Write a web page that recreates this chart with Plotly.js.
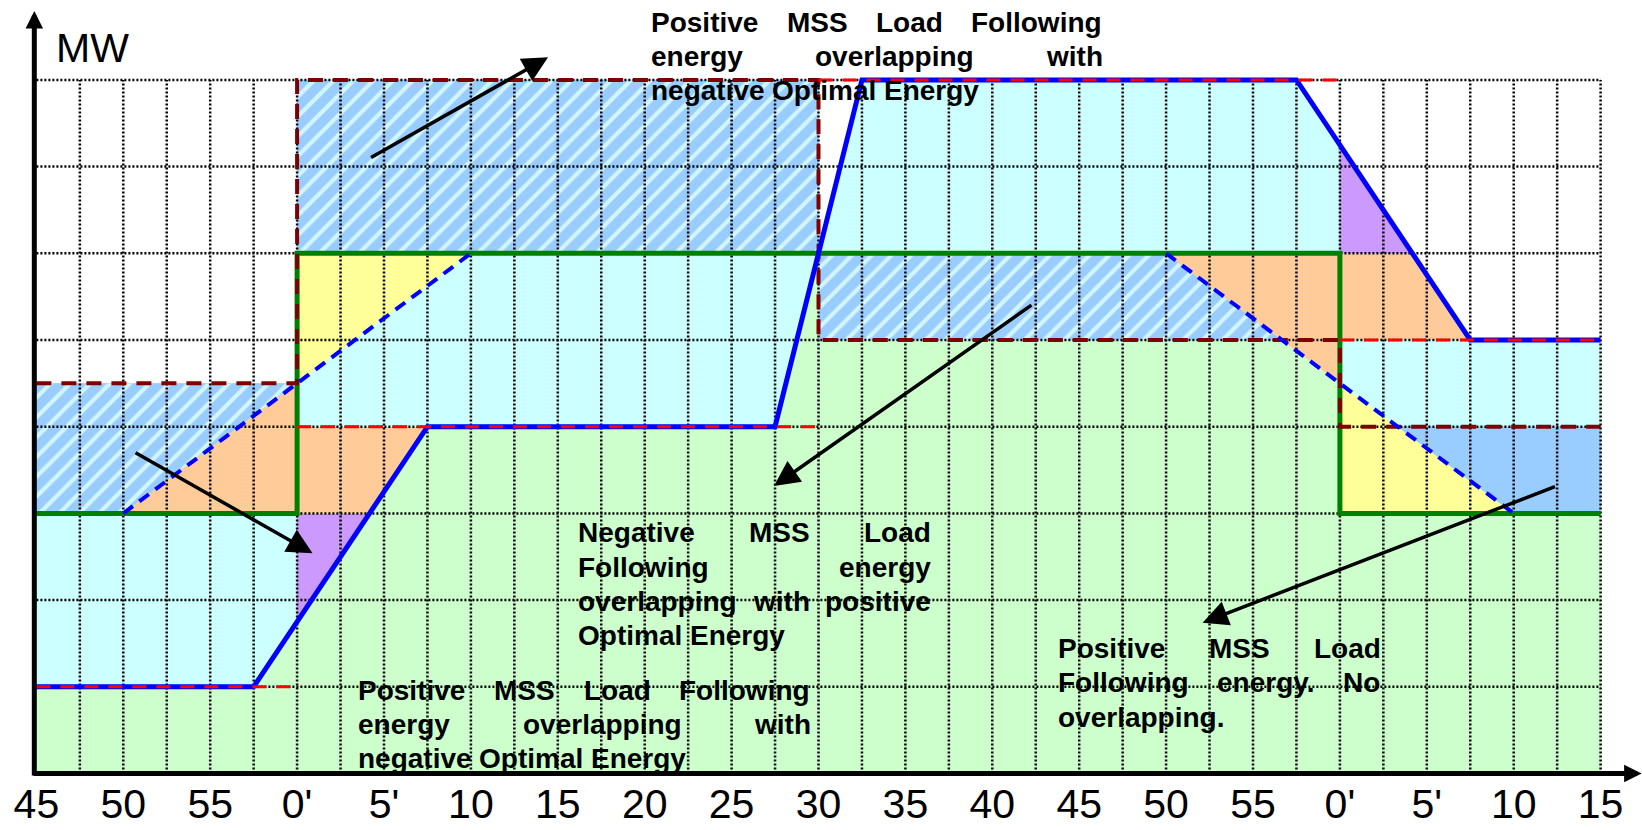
<!DOCTYPE html>
<html><head><meta charset="utf-8">
<script src="https://cdn.plot.ly/plotly-3.0.1.min.js"></script>
<style>html,body{margin:0;padding:0;background:#fff;}#chart{width:1642px;height:830px;}</style>
</head><body><div id="chart"></div>
<script>
// ---------- data (x = minutes after the first ":45", y = MW units) ----------
const tickMinutes = [0,5,10,15,20,25,30,35,40,45,50,55,60,65,70,75,80,85,90];
const tickLabels = ['45','50','55',"0'","5'",'10','15','20','25','30','35','40','45','50','55',"0'","5'",'10','15'];
// optimal energy (green step)
const optimalX = [0,15,15,75,75,90];
const optimalY = [3,3,6,6,3,3];
// ramped optimal energy (blue dashed)
const optimalRampX = [0,5,25,65,85,90];
const optimalRampY = [3,3,6,6,3,3];
// MSS load following (blue solid)
const mssX = [0,12.5,22.5,42.5,47.5,72.5,82.5,90];
const mssY = [1,1,4,4,8,8,5,5];
// hourly schedule (red dashed)
const scheduleStartX = [0,15,45,75];
const scheduleEndX = [15,45,75,90];
const scheduleY = [1,4,8,5];
// band limit (dark red dashed)
const boundStartX = [0,15,45,75];
const boundEndX = [15,45,75,90];
const boundY = [4.5,8,5,4];
// annotation texts
const noteTop = ['Positive MSS Load Following','energy overlapping with','negative Optimal Energy'];
const noteNegative = ['Negative MSS Load','Following energy','overlapping with positive','Optimal Energy'];
const noteBottom = ['Positive MSS Load Following','energy overlapping with','negative Optimal Energy'];
const noteRight = ['Positive MSS Load','Following energy. No','overlapping.'];
const yAxisLabel = 'MW';

// ---------- layout geometry ----------
const W = 1642, H = 830, L = 30, R = 0, T = 8, B = 54;
const PW = W - L - R, PH = H - T - B;
const X0PX = 36.4, PXPERMIN = 17.38, Y0PX = 773.5, PXPERMW = 86.7;
const xRange = [(L - X0PX) / PXPERMIN, (W - R - X0PX) / PXPERMIN];
const yRange = [(Y0PX - (H - B)) / PXPERMW, (Y0PX - T) / PXPERMW];
const gridMaxX = 90, gridMaxY = 8, gridStepX = 2.5, gridStepY = 1;

// ---------- helpers ----------
function interp(xs, ys, x) {
  for (let i = 0; i < xs.length - 1; i++) {
    if (x >= xs[i] && x <= xs[i+1]) {
      if (xs[i+1] === xs[i]) return ys[i];
      return ys[i] + (ys[i+1]-ys[i]) * (x - xs[i]) / (xs[i+1]-xs[i]);
    }
  }
  return ys[ys.length-1];
}
function cross(xs, ys, y, x0, x1) {
  for (let i = 0; i < xs.length - 1; i++) {
    if (ys[i] === ys[i+1]) continue;
    if ((ys[i]-y)*(ys[i+1]-y) <= 0) {
      const x = xs[i] + (y-ys[i])*(xs[i+1]-xs[i])/(ys[i+1]-ys[i]);
      if (x >= x0 - 1e-9 && x <= x1 + 1e-9) return x;
    }
  }
  return null;
}
function pts(xs, ys, x0, x1) {
  const p = [[x0, interp(xs, ys, x0)]];
  for (let i = 0; i < xs.length; i++) if (xs[i] > x0 && xs[i] < x1) p.push([xs[i], ys[i]]);
  p.push([x1, interp(xs, ys, x1)]);
  return p;
}
const mss = x => interp(mssX, mssY, x);
const ramp = x => interp(optimalRampX, optimalRampY, x);
const mssCross = (y, a, b) => cross(mssX, mssY, y, a, b);
const rampCross = (y, a, b) => cross(optimalRampX, optimalRampY, y, a, b);

const h1 = boundEndX[0], mid = boundEndX[1], h2 = boundEndX[2], end = boundEndX[3];
const gLow = optimalY[0], gHigh = optimalY[2];

const C = {green:'#CCFFCC', cyan:'#CCFFFF', purple:'#CC99FF', orange:'#FFCC99', yellow:'#FFFF99', blue:'#99CCFF'};
const regions = [];
function region(points, color, hatch) { regions.push({points, color, hatch}); }

region([[0,0], ...mssX.map((x,i)=>[x, mssY[i]]), [end,0]], C.green);
region([...pts(mssX, mssY, 0, h1), [h1,gLow], [0,gLow]], C.cyan);
region([[h1, mss(h1)], [h1, gLow], [mssCross(gLow, h1, mid), gLow]], C.purple);
region([...pts(optimalRampX, optimalRampY, 0, h1), [0, boundY[0]]], null, true);
region([[optimalRampX[1], gLow], [mssCross(gLow, h1, mid), gLow], [mssCross(scheduleY[1], h1, mid), scheduleY[1]], [h1, scheduleY[1]], [h1, ramp(h1)]], C.orange);
region([[h1, ramp(h1)], [h1, gHigh], [rampCross(gHigh, h1, mid), gHigh]], C.yellow);
const mLow = mssCross(scheduleY[1], h1, mid), mUp = mssCross(gHigh, h1, h2), rUp = rampCross(gHigh, h1, mid);
region([[h1, scheduleY[1]], ...pts(mssX, mssY, mLow, mUp), ...pts(optimalRampX, optimalRampY, h1, rUp).reverse()], C.cyan);
region([[h1, gHigh], [mid, gHigh], [mid, boundY[1]], [h1, boundY[1]]], null, true);
region([...pts(mssX, mssY, mUp, h2), [h2, gHigh], [mUp, gHigh]], C.cyan);
const rMid = rampCross(boundY[2], mid, end);
region([[mid, boundY[2]], ...pts(optimalRampX, optimalRampY, mid, rMid)], null, true);
const rDown = optimalRampX[3];
region([...pts(optimalRampX, optimalRampY, rDown, h2), [h2, gHigh]], C.orange);
const mDown = mssCross(gHigh, h2, end), mFlat = mssCross(scheduleY[3], h2, end);
region([[h2, scheduleY[3]], [h2, gHigh], ...pts(mssX, mssY, mDown, mFlat)], C.orange);
region([[h2, gHigh], ...pts(mssX, mssY, h2, mDown)], C.purple);
const rEnd = optimalRampX[4];
region([[h2, optimalY[4]], ...pts(optimalRampX, optimalRampY, h2, rEnd)], C.yellow);
const rB = rampCross(boundY[3], h2, end);
region([...pts(optimalRampX, optimalRampY, h2, rB), [end, boundY[3]], [end, scheduleY[3]], [h2, scheduleY[3]]], C.cyan);
region([...pts(optimalRampX, optimalRampY, rB, rEnd), [end, optimalY[5]], [end, boundY[3]]], C.blue);

const traces = [];
regions.forEach(r => {
  const xs = r.points.map(p=>p[0]).concat([r.points[0][0]]);
  const ys = r.points.map(p=>p[1]).concat([r.points[0][1]]);
  const t = {type:'scatter', mode:'lines', x:xs, y:ys, fill:'toself', hoverinfo:'skip', showlegend:false,
    line:{width:0.6, color: r.hatch ? C.blue : r.color}, fillcolor: r.hatch ? C.blue : r.color};
  if (r.hatch) t.fillpattern = {shape:'/', bgcolor:C.blue, fgcolor:'#D2F6FF', size:14, solidity:0.3};
  traces.push(t);
});

// grid
const gx = [], gy = [];
for (let x = gridStepX; x <= gridMaxX + 1e-9; x += gridStepX) { gx.push(x, x, null); gy.push(0, gridMaxY, null); }
for (let y = gridStepY; y <= gridMaxY + 1e-9; y += gridStepY) { gx.push(0, gridMaxX, null); gy.push(y, y, null); }
traces.push({type:'scatter', mode:'lines', x:gx, y:gy, hoverinfo:'skip', showlegend:false,
  line:{color:'#000', width:2.5, dash:'2px,2px'}});

// optimal (green)
traces.push({type:'scatter', mode:'lines', x:optimalX, y:optimalY, hoverinfo:'skip', showlegend:false,
  line:{color:'#008000', width:5}});
// band limit (dark red)
const bx = [], by = [];
boundStartX.forEach((x,i)=>{ bx.push(x, boundEndX[i]); by.push(boundY[i], boundY[i]); });
traces.push({type:'scatter', mode:'lines', x:bx, y:by, hoverinfo:'skip', showlegend:false,
  line:{color:'#800000', width:4, dash:'15px,10px'}});
// ramped optimal (blue dashed) only where it departs from the step
const dx = [], dy = [];
for (let i = 0; i < optimalRampX.length-1; i++) if (optimalRampY[i] !== optimalRampY[i+1]) {
  dx.push(optimalRampX[i], optimalRampX[i+1], null); dy.push(optimalRampY[i], optimalRampY[i+1], null);
}
traces.push({type:'scatter', mode:'lines', x:dx, y:dy, hoverinfo:'skip', showlegend:false,
  line:{color:'#0000FF', width:4, dash:'12px,8px'}});
// MSS (blue)
traces.push({type:'scatter', mode:'lines', x:mssX, y:mssY, hoverinfo:'skip', showlegend:false,
  line:{color:'#0000FF', width:5}});
// schedule (red dashed)
const sx = [], sy = [];
scheduleStartX.forEach((x,i)=>{ sx.push(x, scheduleEndX[i], null); sy.push(scheduleY[i], scheduleY[i], null); });
traces.push({type:'scatter', mode:'lines', x:sx, y:sy, hoverinfo:'skip', showlegend:false,
  line:{color:'#FF0000', width:3, dash:'14px,10px'}});

// ---------- annotations ----------
const annotations = [];
const FAM = '"Liberation Sans", Arial, sans-serif';
function arrow(tail, tip, w, size) {
  annotations.push({xref:'x', yref:'y', axref:'x', ayref:'y', x:tip[0], y:tip[1], ax:tail[0], ay:tail[1],
    text:'', showarrow:true, arrowhead:2, arrowsize:size, arrowwidth:w, arrowcolor:'#000', standoff:0, startstandoff:0});
}
// axes
arrow([-0.12, -0.04], [-0.12, 8.795], 5, 0.7);
arrow([-0.25, 0], [92.36, 0], 5, 0.7);
// pointers
arrow([19.17, 7.096], [29.44, 8.26], 3.5, 1.45);
arrow([5.62, 3.71], [15.89, 2.54], 3.5, 1.45);
arrow([57.34, 5.415], [42.44, 3.316], 3.5, 1.45);
arrow([87.46, 3.316], [67.1, 1.74], 3.5, 1.45);

annotations.push({xref:'paper', yref:'paper', x:(92.5-L)/PW, y:(H-B-48)/PH, xanchor:'center', yanchor:'middle',
  text:yAxisLabel, showarrow:false, borderpad:0, borderwidth:0, font:{family:FAM, size:41, color:'#000'}});

const FS = 28;
const ctx = document.createElement('canvas').getContext('2d');
ctx.font = `bold ${FS}px "Liberation Sans"`;
const spaceW = ctx.measureText(' ').width;
const blocks = [
  {lines: noteTop, left: 651, right: 1102, baselines: [32, 66, 100]},
  {lines: noteNegative, left: 577.5, right: 931, baselines: [542, 577, 611, 645]},
  {lines: noteBottom, left: 358, right: 810, baselines: [700, 734, 768]},
  {lines: noteRight, left: 1057.5, right: 1380.5, baselines: [658, 692, 727]}
];
blocks.forEach(block => {
  block.lines.forEach((line, li) => {
    const words = line.split(' ');
    const widths = words.map(w => ctx.measureText(w).width);
    const total = widths.reduce((a,b)=>a+b, 0);
    const justify = li < block.lines.length - 1 && words.length > 1;
    const gap = justify ? (block.right - block.left - total) / (words.length - 1) : spaceW;
    let px = block.left;
    const midY = block.baselines[li] - 0.3465 * FS;
    words.forEach((w, i) => {
      annotations.push({xref:'paper', yref:'paper', x:(px - L)/PW, y:(H - B - midY)/PH, xanchor:'left', yanchor:'middle',
        text:w, showarrow:false, borderpad:0, borderwidth:0, font:{family:FAM, size:FS, color:'#000', weight:700}});
      px += widths[i] + gap;
    });
  });
});

const layout = {
  width:W, height:H, margin:{l:L, r:R, t:T, b:B, pad:0},
  paper_bgcolor:'#fff', plot_bgcolor:'rgba(0,0,0,0)', showlegend:false, hovermode:false,
  xaxis:{range:xRange, showgrid:false, zeroline:false, showline:false, ticks:'',
    tickmode:'array', tickvals:tickMinutes, ticktext:tickLabels, tickfont:{family:FAM, size:41, color:'#000'}, fixedrange:true},
  yaxis:{range:yRange, showgrid:false, zeroline:false, showline:false, showticklabels:false, ticks:'', fixedrange:true},
  annotations
};
Plotly.newPlot('chart', traces, layout, {displayModeBar:false, staticPlot:true});
</script>
</body></html>
